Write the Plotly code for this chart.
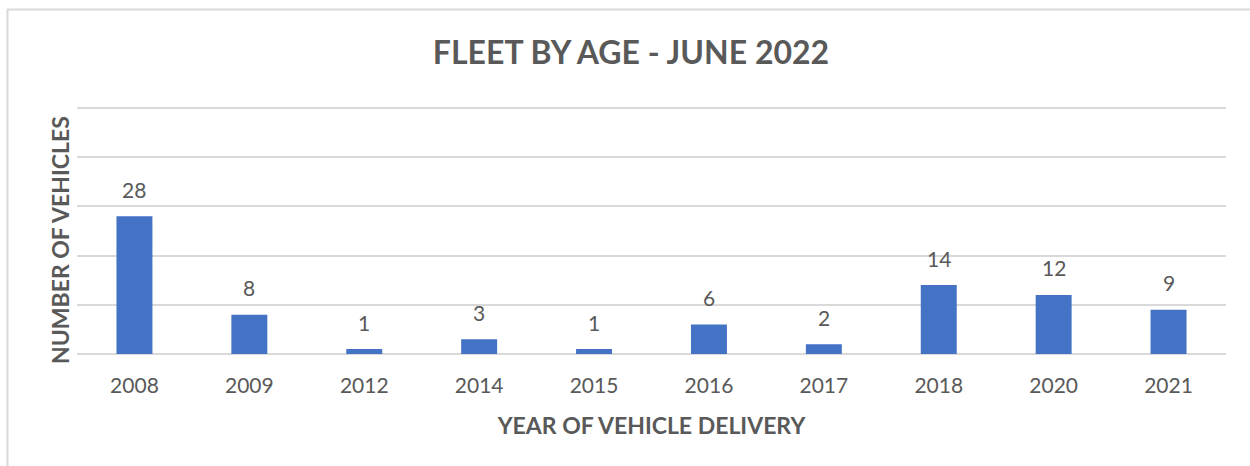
import plotly.graph_objects as go

years = ["2008", "2009", "2012", "2014", "2015", "2016", "2017", "2018", "2020", "2021"]
vehicles = [28, 8, 1, 3, 1, 6, 2, 14, 12, 9]

W, H = 1250, 466
L, R, T, B = 77, 24, 103, 112
pw, ph = W - L - R, H - T - B

font_family = "Lato, 'Open Sans', sans-serif"
txt = "#595959"

fig = go.Figure()
fig.add_trace(go.Bar(
    x=years, y=vehicles,
    marker=dict(color="#4472C4", line=dict(width=0)),
    hoverinfo="x+y",
))

for i, v in enumerate(vehicles):
    fig.add_annotation(x=i, y=v, text=str(v), showarrow=False, xref="x", yref="y",
                       yshift=27, font=dict(family=font_family, size=21, color=txt))

# y-axis title (placed as annotation to match reference position)
fig.add_annotation(text="<b>NUMBER OF VEHICLES</b>", textangle=-90, showarrow=False,
                   xref="paper", yref="paper",
                   x=(60 - L) / pw, y=(H - B - 240) / ph, xanchor="center", yanchor="middle",
                   font=dict(family=font_family, size=23, color=txt))

fig.add_shape(type="rect", xref="paper", yref="paper",
              x0=(7.5 - L) / pw, x1=(1270 - L) / pw,
              y0=(H - B - 490) / ph, y1=(H - B - 9.5) / ph,
              line=dict(color="#D9D9D9", width=2), fillcolor="rgba(0,0,0,0)", layer="below")

fig.update_layout(
    width=W, height=H,
    margin=dict(l=L, r=R, t=T, b=B, autoexpand=False),
    paper_bgcolor="white", plot_bgcolor="white",
    bargap=0.687,
    showlegend=False,
    title=dict(text="<b>FLEET BY AGE - JUNE 2022</b>", x=631 / W, xanchor="center",
               y=1 - 53 / H, yanchor="middle",
               font=dict(family=font_family, size=32, color=txt)),
    font=dict(family=font_family, color=txt),
)
fig.update_xaxes(
    type="category", showgrid=False, showline=False, ticks="", automargin=False,
    tickfont=dict(size=21, color=txt), ticklabelstandoff=17,
    title=dict(text="<b>YEAR OF VEHICLE DELIVERY</b>", font=dict(size=23, color=txt), standoff=21),
)
fig.update_yaxes(
    range=[0, 51], tickvals=[10, 20, 30, 40, 50], showticklabels=False, automargin=False,
    showgrid=True, gridcolor="#D9D9D9", gridwidth=1.5,
    zeroline=True, zerolinecolor="#D9D9D9", zerolinewidth=2,
)

fig.write_html("out.html", config={"displayModeBar": False},
               post_script="document.body.style.margin='0';document.body.style.overflow='hidden';")
